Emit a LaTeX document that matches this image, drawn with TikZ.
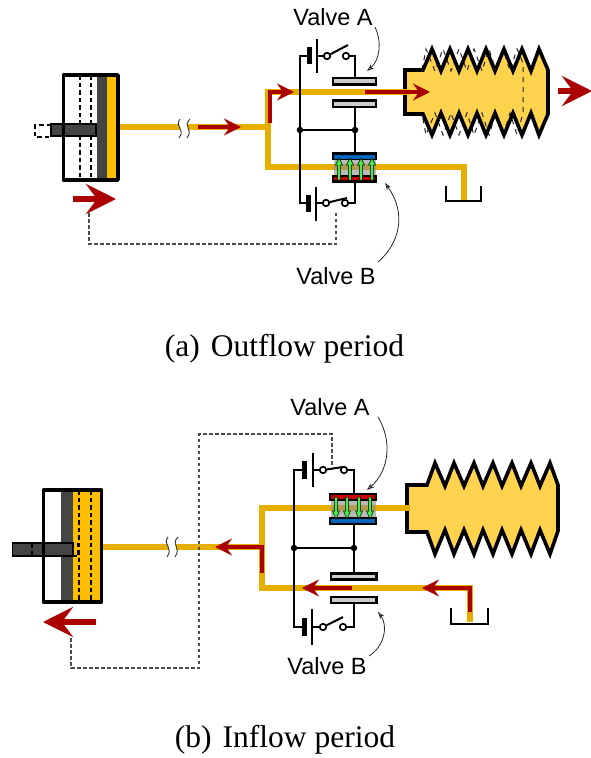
\documentclass[tikz,border=0pt]{standalone}
\usepackage{fontspec}
\setmainfont{Liberation Serif}
\newfontfamily\lsans{Liberation Sans}
\usetikzlibrary{arrows.meta}
\definecolor{pipeY}{HTML}{E6AF00}
\definecolor{oilY}{HTML}{FFBE00}
\definecolor{bellY}{HTML}{FFD34D}
\definecolor{redA}{HTML}{AA0000}
\definecolor{darkP}{HTML}{444444}
\definecolor{plateG}{HTML}{CCCCCC}
\definecolor{blueV}{HTML}{0066BB}
\definecolor{redV}{HTML}{CC0000}
\definecolor{greenV}{HTML}{44EE44}
\tikzset{
  pipe/.style={draw=pipeY,line width=5.5pt,line join=miter,line cap=butt},
  redflow/.style={draw=redA,line width=3.5pt,-{Stealth[length=17pt,width=17pt,inset=6pt]}},
  bigflow/.style={draw=redA,line width=6.5pt,-{Stealth[length=30pt,width=30pt,inset=11pt]}},
  wire/.style={draw=black,line width=2pt},
  plate/.style={draw=black,line width=2.4pt,fill=plateG},
  cyl/.style={draw=black,line width=3.6pt,line join=round},
  dashb/.style={draw=black,line width=1.3pt,dash pattern=on 4.5pt off 3pt},
  ghost/.style={draw=black!85,line width=1pt,dash pattern=on 5pt off 5pt},
  signal/.style={draw=black!70,line width=1.1pt,dash pattern=on 3.5pt off 2.5pt},
  callout/.style={draw=black!85,line width=.8pt,-{Stealth[length=7pt,width=5pt,inset=2pt,open]}},
  lab/.style={font=\lsans\fontsize{23.5}{25}\selectfont,inner sep=0pt},
  captext/.style={font=\fontsize{31.5}{34}\selectfont,inner sep=0pt},
  jdot/.style={circle,fill=black,inner sep=0pt,minimum size=6.5pt},
  contact/.style={circle,draw=black,line width=1.7pt,fill=white,inner sep=0pt,minimum size=6.5pt},
  greenup/.style={draw=black,line width=.5pt},
  tank/.style={draw=black,line width=2.4pt},
  bell/.style={draw=black,line width=3.6pt,line join=miter},
  breakS/.style={draw=black!80,line width=.9pt}
}
\newcommand{\bellowsA}{(405,70) -- (423,70) -- (432,49) -- (441,71) -- (450,49) -- (459,71) -- (468,49) -- (477,71) -- (486,49) -- (495,71) -- (504,49) -- (513,71) -- (522,49) -- (531,71) -- (539,49) -- (548,70) -- (548,114) -- (539,135) -- (531,113) -- (522,135) -- (513,113) -- (504,135) -- (495,113) -- (486,135) -- (477,113) -- (468,135) -- (459,113) -- (450,135) -- (441,113) -- (432,135) -- (423,114) -- (405,114) -- cycle}
\begin{document}
\begin{tikzpicture}[x=1pt,y=-1pt]
\useasboundingbox (0,0) rectangle (590,758);
%%%% ---------- (a) ----------
\coordinate (pA0) at (116,127);
\coordinate (pA1) at (268,127);
\coordinate (pAt) at (268,92);
\coordinate (pAb) at (268,167);
\coordinate (pAe) at (410,92);
\coordinate (pAf) at (464,167);
\coordinate (pAg) at (464,200);
% bellows
\fill[bellY] \bellowsA;
\draw[ghost] (422,70) -- (426,49) -- (435,71) -- (443,49) -- (451,71) -- (459,49) -- (467,71) -- (474,49) -- (482,71) -- (489,49) -- (496,71) -- (503,49) -- (510,71) -- (517,49) -- (523,63) -- (523,113) -- (517,135) -- (510,113) -- (503,135) -- (496,113) -- (489,135) -- (482,113) -- (474,135) -- (467,113) -- (459,135) -- (451,113) -- (443,135) -- (435,113) -- (426,135) -- (422,114);
\draw[bell] \bellowsA;
% pipes
\draw[pipe] (pA0) -- (pA1);
\draw[pipe] (pAe) -- (pAt) -- (pAb) -- (pAf) -- (pAg);
% cylinder
\fill[oilY] (107,75) rectangle (117,180);
\fill[darkP] (97,75) rectangle (107,180);
\draw[dashb] (80,75) -- (80,180) (91,75) -- (91,180);
\draw[black,fill=darkP,line width=1.2pt] (51,124) rectangle (96,136);
\draw[dashb] (51,125) -- (35,125) -- (35,137) -- (51,137);
\draw[cyl] (63.5,75) rectangle (118,180);
% break
\fill[white] (180,119) .. controls (174,127) and (186,129) .. (179,138) -- (187,138) .. controls (194,129) and (182,127) .. (190,119) -- cycle;
\draw[breakS] (180,119) .. controls (174,127) and (186,129) .. (179,138);
\draw[breakS] (190,119) .. controls (182,127) and (194,129) .. (187,138);
% flows
\draw[redflow] (198,127) -- (241,127);
\draw[redflow] (270,123) -- (270,92) -- (294,92);
\draw[redflow] (365,92) -- (430,92);
\draw[bigflow] (73,199) -- (116,199);
\draw[bigflow] (558,91) -- (592,91);
% signal
\draw[signal] (89,213) -- (89,244) -- (336,244) -- (336,212);
% wiring
\coordinate (wAa) at (300,56);
\coordinate (wAb) at (300,203);
\node[jdot] (jA1) at (300,130) {};
\node[jdot] (jA2) at (355,130) {};
\node[contact] (cA1) at (327,56) {};
\node[contact] (cA2) at (346,56) {};
\node[contact] (cA3) at (326,203) {};
\node[contact] (cA4) at (345,203) {};
\draw[wire] (309,56) -- (wAa) -- (wAb) -- (308,203);
\draw[wire] (317,56) -- (cA1);
\draw[wire] (cA1) -- (348,45);
\draw[wire] (cA2) -- (355,56) -- (355,78);
\draw[wire] (355,107) -- (jA2) -- (355,153);
\draw[wire] (jA1) -- (jA2);
\draw[wire] (355,182) -- (355,203) -- (cA4);
\draw[wire] (316,203) -- (cA3);
\draw[wire] (cA3) -- (347,198);
\draw[black,line width=2.4pt] (317,39) -- (317,73) (316,187) -- (316,221);
\draw[black,line width=5pt] (309,47) -- (309,64) (308,195) -- (308,212);
% valve A (a)
\draw[plate] (333,78) rectangle (376,84.5);
\draw[plate] (333,100.5) rectangle (376,107);
% valve B (a)
\fill[black!45,opacity=.6] (334,159) rectangle (376,175);
\fill[black] (332,152) rectangle (377,160);
\fill[blueV] (334,154.5) rectangle (375,158.5);
\fill[black] (332,175) rectangle (377,182.5);
\fill[redV] (334,177) rectangle (375,180);
\foreach \gx in {339,350,361,372}{
  \filldraw[greenup,fill=greenV] (\gx-1.3,180) -- (\gx-1.3,165) -- (\gx-3.5,165) -- (\gx,158) -- (\gx+3.5,165) -- (\gx+1.3,165) -- (\gx+1.3,180) -- cycle;
}
\draw[tank] (446,186) -- (446,201) -- (481,201) -- (481,186);
% labels
\node[lab] (vaT) at (333,17) {Valve A};
\node[lab] (vbT) at (336,276) {Valve B};
\coordinate (ca1) at (375,27);
\coordinate (ca2) at (367,71);
\coordinate (cb1) at (378,262);
\coordinate (cb2) at (385,183);
\draw[callout] (ca1) .. controls (382,42) and (380,60) .. (ca2);
\draw[callout] (cb1) .. controls (398,245) and (408,215) .. (cb2);
\node[captext] (capA) at (284.5,349) {(a)\hspace{.1em} Outflow period};
%%%% ---------- (b) ----------
\coordinate (pB0) at (99,547);
\coordinate (pB1) at (262,547);
\coordinate (pBt) at (262,508);
\coordinate (pBb) at (262,588);
\coordinate (pBe) at (410,508);
\coordinate (pBf) at (470,588);
\coordinate (pBg) at (470,622);
\draw[bell,fill=bellY] (407,485) -- (427,485) -- (435,463) -- (445,486) -- (454,463) -- (464,486) -- (474,463) -- (483,486) -- (493,463) -- (502,486) -- (512,463) -- (521,486) -- (531,463) -- (540,486) -- (550,463) -- (558,485) -- (558,531) -- (550,554) -- (540,530) -- (531,554) -- (521,530) -- (512,554) -- (502,530) -- (493,554) -- (483,530) -- (474,554) -- (464,530) -- (454,554) -- (445,530) -- (435,554) -- (427,532) -- (407,532) -- cycle;
\draw[pipe] (pB0) -- (pB1);
\draw[pipe] (pBe) -- (pBt) -- (pBb) -- (pBf) -- (pBg);
% cylinder
\fill[oilY] (73,490) rectangle (100,602);
\fill[darkP] (61,490) rectangle (73,602);
\draw[black,fill=darkP,line width=1.2pt] (12.5,543) rectangle (73,556);
\draw[dashb] (79,490) -- (79,602) (91,490) -- (91,602);
\draw[dashb] (32,543.5) -- (32,556) -- (78,556) -- (78,543.5) -- cycle;
\draw[cyl] (43.5,490) rectangle (101.5,602);
% break
\fill[white] (168,537) .. controls (162,545) and (174,547) .. (167,557) -- (175,557) .. controls (182,547) and (170,545) .. (178,537) -- cycle;
\draw[breakS] (168,537) .. controls (162,545) and (174,547) .. (167,557);
\draw[breakS] (178,537) .. controls (170,545) and (182,547) .. (175,557);
% signal
\draw[signal] (71,638) -- (71,668) -- (199,668) -- (199,434) -- (332,434) -- (332,465);
% flows
\draw[redflow] (262,573) -- (262,547) -- (215,547);
\draw[redflow] (352,588) -- (302,588);
\draw[redflow] (470,612) -- (470,588) -- (422,588);
\draw[bigflow] (96,622) -- (43,622);
% wiring
\node[jdot] (jB1) at (294,548) {};
\node[jdot] (jB2) at (354,548) {};
\node[contact] (cB1) at (323,470) {};
\node[contact] (cB2) at (344,470) {};
\node[contact] (cB3) at (323,627) {};
\node[contact] (cB4) at (343,627) {};
\draw[wire] (304,470) -- (294,470) -- (294,627) -- (304,627);
\draw[wire] (313,470) -- (cB1);
\draw[wire] (cB1) -- (343,467);
\draw[wire] (cB2) -- (354,470) -- (354,493);
\draw[wire] (354,525) -- (jB2) -- (354,573);
\draw[wire] (jB1) -- (jB2);
\draw[wire] (354,603) -- (354,627) -- (cB4);
\draw[wire] (312,627) -- (cB3);
\draw[wire] (cB3) -- (343,617);
\draw[black,line width=2.4pt] (313,453) -- (313,487) (312,609) -- (312,645);
\draw[black,line width=5pt] (304,461) -- (304,479) (304,618) -- (304,636);
% valve A (b)
\fill[black!45,opacity=.6] (331,500) rectangle (376,517);
\fill[black] (329,493) rectangle (377,501);
\fill[redV] (331,495) rectangle (375,499);
\fill[black] (329,517) rectangle (377,525);
\fill[blueV] (331,519) rectangle (375,523);
\foreach \gx in {336,347,359,370}{
  \filldraw[greenup,fill=greenV] (\gx-1.3,497) -- (\gx-1.3,511) -- (\gx-3.5,511) -- (\gx,519) -- (\gx+3.5,511) -- (\gx+1.3,511) -- (\gx+1.3,497) -- cycle;
}
% valve B (b)
\draw[plate] (331,573.5) rectangle (376.5,579.5);
\draw[plate] (331,597) rectangle (376.5,603);
\draw[tank] (451,608) -- (451,624) -- (488,624) -- (488,608);
% labels
\node[lab] (vaB) at (330,407) {Valve A};
\node[lab] (vbB) at (327,666) {Valve B};
\coordinate (cc1) at (378,417);
\coordinate (cc2) at (367,490);
\coordinate (cd1) at (369,656);
\coordinate (cd2) at (378,612);
\draw[callout] (cc1) .. controls (392,440) and (390,470) .. (cc2);
\draw[callout] (cd1) .. controls (385,646) and (388,625) .. (cd2);
\node[captext] (capB) at (285,740) {(b)\hspace{.1em} Inflow period};
\end{tikzpicture}
\end{document}
